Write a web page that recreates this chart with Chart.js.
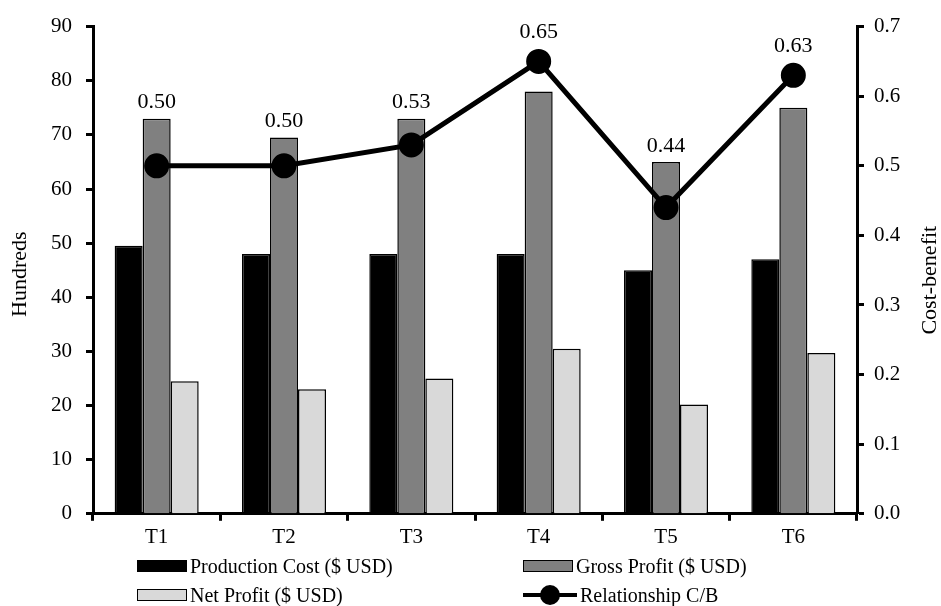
<!DOCTYPE html>
<html>
<head>
<meta charset="utf-8">
<script src="https://cdn.jsdelivr.net/npm/chart.js@4"></script>
<style>
  html, body { margin: 0; padding: 0; background: #fff; }
  #wrap { position: relative; width: 941px; height: 606px; }
  #legend { position: absolute; left: 0; top: 0; width: 941px; height: 606px; pointer-events: none;
            font-family: "Liberation Serif", "Times New Roman", serif; font-size: 20px; color: #000; }
  .item { position: absolute; display: flex; align-items: center; white-space: nowrap; height: 24px; }
  .box { width: 48px; height: 10px; border: 1.5px solid #000; margin-right: 3px; }
  .mark { position: relative; width: 54px; height: 20px; margin-right: 3px; }
  .mark .ln { position: absolute; left: 0; right: 0; top: 8px; height: 4px; background: #000; }
  .mark .dot { position: absolute; left: 17px; top: 0; width: 20px; height: 20px; border-radius: 50%; background: #000; }
</style>
</head>
<body>
<div id="wrap">
  <canvas id="chart" width="941" height="606"></canvas>
  <div id="legend">
    <div class="item" style="left:137px; top:554px;"><span class="box" style="background:#000"></span>Production Cost ($ USD)</div>
    <div class="item" style="left:523px; top:554px;"><span class="box" style="background:#808080"></span>Gross Profit ($ USD)</div>
    <div class="item" style="left:137px; top:583px;"><span class="box" style="background:#d9d9d9"></span>Net Profit ($ USD)</div>
    <div class="item" style="left:523px; top:583px;"><span class="mark"><span class="ln"></span><span class="dot"></span></span>Relationship C/B</div>
  </div>
</div>
<script>
// 데이터
const categories     = ['T1', 'T2', 'T3', 'T4', 'T5', 'T6'];
const productionCost = [49.5, 48, 48, 48, 45, 47];
const grossProfit    = [73, 69.5, 73, 78, 65, 75];
const netProfit      = [24.5, 23, 25, 30.5, 20.2, 29.7];
const costBenefit    = [0.50, 0.50, 0.53, 0.65, 0.44, 0.63];

const FONT = 'Liberation Serif';

// C/B 값 라벨: 회색 막대 위 또는 점 위 중 더 높은 쪽
const cbLabels = {
    id: 'cbLabels',
    afterDatasetsDraw(chart) {
        const { ctx } = chart;
        const barMeta = chart.getDatasetMeta(1);
        const lineMeta = chart.getDatasetMeta(3);
        ctx.save();
        ctx.font = `22px "${FONT}"`;
        ctx.fillStyle = '#000';
        ctx.textAlign = 'center';
        ctx.textBaseline = 'middle';
        lineMeta.data.forEach((pt, i) => {
            const barTop = barMeta.data[i].y;
            const y = Math.min(barTop - 16, pt.y - 29);
            ctx.fillText(costBenefit[i].toFixed(2), pt.x, y);
        });
        ctx.restore();
    }
};

// 축 제목 (양쪽 모두 아래→위 방향)
const axisTitles = {
    id: 'axisTitles',
    afterDraw(chart) {
        const { ctx, chartArea: { left, right, top, bottom } } = chart;
        const mid = (top + bottom) / 2;
        ctx.save();
        ctx.font = `22px "${FONT}"`;
        ctx.fillStyle = '#000';
        ctx.textAlign = 'center';
        ctx.textBaseline = 'middle';
        [['Hundreds', left - 73, mid + 4], ['Cost-benefit', right + 73, mid + 10]].forEach(([t, x, y]) => {
            ctx.save();
            ctx.translate(x, y);
            ctx.rotate(-Math.PI / 2);
            ctx.fillText(t, 0, 0);
            ctx.restore();
        });
        ctx.restore();
    }
};

const axisBorder = { display: true, color: '#000', width: 3 };
const tickGrid = { drawOnChartArea: false, drawTicks: true, tickLength: 7, tickWidth: 3, tickColor: '#000' };

new Chart(document.getElementById('chart').getContext('2d'), {
    data: {
        labels: categories,
        datasets: [
            { type: 'bar', label: 'Production Cost ($ USD)', data: productionCost, yAxisID: 'y',
              backgroundColor: '#000', borderColor: '#000', borderWidth: 1.5, order: 2 },
            { type: 'bar', label: 'Gross Profit ($ USD)', data: grossProfit, yAxisID: 'y',
              backgroundColor: '#808080', borderColor: '#000', borderWidth: 1.5, order: 2 },
            { type: 'bar', label: 'Net Profit ($ USD)', data: netProfit, yAxisID: 'y',
              backgroundColor: '#d9d9d9', borderColor: '#000', borderWidth: 1.5, order: 2 },
            { type: 'line', label: 'Relationship C/B', data: costBenefit, yAxisID: 'y1',
              borderColor: '#000', backgroundColor: '#000', borderWidth: 5,
              pointRadius: 10, pointHoverRadius: 10, tension: 0, order: 1 }
        ]
    },
    options: {
        responsive: false,
        animation: false,
        layout: { padding: { left: 0, right: 0, top: 26, bottom: 52 } },
        categoryPercentage: 0.66,
        barPercentage: 1,
        plugins: { legend: { display: false }, tooltip: { enabled: false } },
        scales: {
            x: {
                grid: { ...tickGrid, offset: true },
                border: axisBorder,
                ticks: { color: '#000', font: { family: FONT, size: 21 }, padding: 4 }
            },
            y: {
                position: 'left', min: 0, max: 90,
                grid: tickGrid, border: axisBorder,
                afterFit: s => { s.width = 93; },
                ticks: { stepSize: 10, color: '#000', font: { family: FONT, size: 21 }, padding: 14 }
            },
            y1: {
                position: 'right', min: 0, max: 0.7,
                grid: tickGrid, border: axisBorder,
                afterFit: s => { s.width = 84; },
                ticks: { stepSize: 0.1, color: '#000', font: { family: FONT, size: 21 }, padding: 10,
                         callback: v => Number(v).toFixed(1) }
            }
        }
    },
    plugins: [cbLabels, axisTitles]
});
</script>
</body>
</html>
